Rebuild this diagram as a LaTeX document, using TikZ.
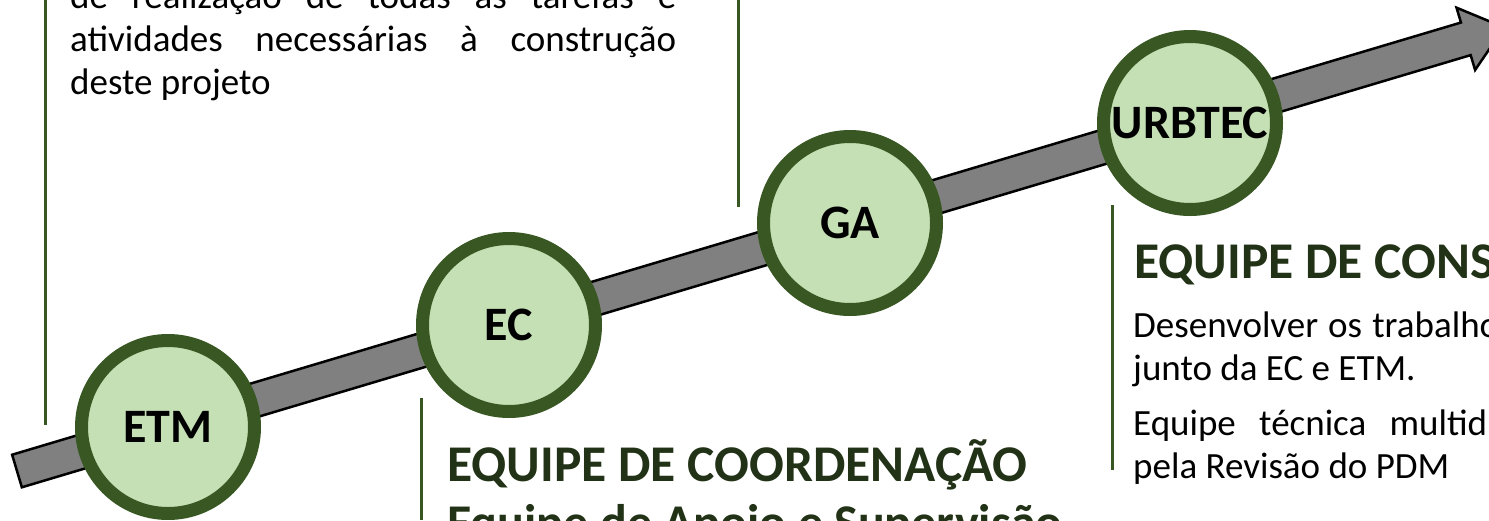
\documentclass[tikz,border=0pt]{standalone}
\usepackage{fontspec}
\setmainfont{Carlito}
\definecolor{leaf}{RGB}{56,87,35}
\definecolor{mint}{RGB}{197,224,180}
\definecolor{pine}{RGB}{34,50,22}
\begin{document}
\begin{tikzpicture}[x=1pt,y=-1pt,
    team/.style={circle,draw=leaf,line width=13pt,fill=mint,minimum size=173pt,inner sep=0pt,font=\fontsize{48}{52}\selectfont\bfseries},
    body/.style={anchor=base west,inner sep=0pt,font=\fontsize{37}{43}\selectfont},
    head/.style={anchor=base west,inner sep=0pt,text=pine,font=\fontsize{51.5}{56}\selectfont\bfseries},
    bar/.style={draw=leaf,line width=3pt}]
    \useasboundingbox (0,0) rectangle (1489,520);
    \clip (0,0) rectangle (1489,520);
    \begin{scope}[shift={(17,471)},rotate=16.61]
        \draw[fill=gray,line width=2.5pt] (0,-17) -- (1512,-17) -- (1512,-32.5) -- (1552,0) -- (1512,32.5) -- (1512,17) -- (0,17) -- cycle;
    \end{scope}
    \coordinate (etmup) at (45,0);
    \coordinate (etmdown) at (45,425);
    \coordinate (gaup) at (738,0);
    \coordinate (gadown) at (738,207);
    \coordinate (ecup) at (421,398);
    \coordinate (ecdown) at (421,520);
    \coordinate (urbup) at (1112,205);
    \coordinate (urbdown) at (1112,470);
    \draw[bar] (etmup) -- (etmdown);
    \draw[bar] (gaup) -- (gadown);
    \draw[bar] (ecup) -- (ecdown);
    \draw[bar] (urbup) -- (urbdown);
    \node[team] (etm) at (168,427) {ETM};
    \node[team] (ec) at (509,325) {EC};
    \node[team] (ga) at (850,223) {GA};
    \node[team] (urbtec) at (1190,123) {URBTEC};
    \node[body] (tarefas) at (70,8) {\makebox[606pt][s]{de realização de todas as tarefas e}};
    \node[body] (atividades) at (70,51) {\makebox[606pt][s]{atividades necessárias à construção}};
    \node[body] (projeto) at (70,94) {deste projeto};
    \node[head] (coord) at (447,481) {EQUIPE DE COORDENAÇÃO};
    \node[head,font=\fontsize{50}{56}\selectfont\bfseries] (apoio) at (447,539) {Equipe de Apoio e Supervisão};
    \node[head] (cons) at (1134,278) {EQUIPE DE CONS};
    \node[body] (trabalho) at (1133,337) {\makebox[366pt][s]{Desenvolver os trabalho}};
    \node[body] (junto) at (1133,380) {junto da EC e ETM.};
    \node[body] (tecnica) at (1133,435) {\makebox[354pt][s]{Equipe técnica multid}};
    \node[body] (revisao) at (1133,478) {pela Revisão do PDM};
\end{tikzpicture}
\end{document}
